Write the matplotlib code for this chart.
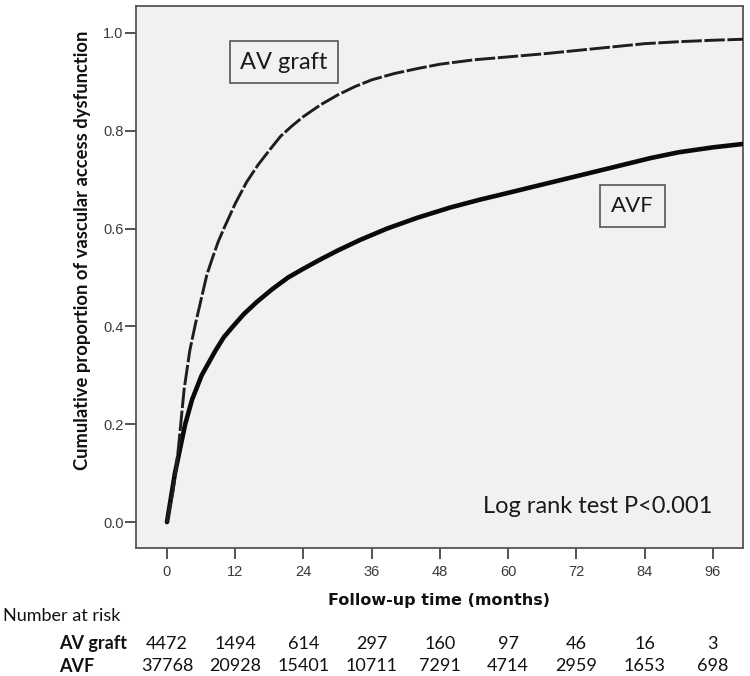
import matplotlib
matplotlib.use("Agg")
import matplotlib.pyplot as plt
import matplotlib.transforms as mtransforms

# ---- data ----
graft_t = [0, 0.5, 1, 1.5, 2, 2.5, 3, 4, 5, 6, 7, 8, 9, 10, 12, 14, 16, 18, 20, 22, 24, 27, 30, 33,
           36, 40, 44, 48, 54, 60, 66, 72, 78, 84, 90, 96, 101.3]
graft_y = [0, 0.03, 0.06, 0.10, 0.15, 0.21, 0.27, 0.35, 0.405, 0.455, 0.505, 0.54, 0.573, 0.60,
           0.651, 0.695, 0.73, 0.76, 0.789, 0.81, 0.829, 0.853, 0.873, 0.89, 0.904, 0.917, 0.927,
           0.936, 0.945, 0.951, 0.957, 0.964, 0.971, 0.978, 0.982, 0.985, 0.987]

avf_t = [0, 0.7, 1.4, 2.3, 3.2, 4.4, 6.1, 8.5, 10, 11.6, 13.5, 15.8, 18.5, 21.3, 24, 27, 30, 34,
         38.7, 44, 49.8, 55, 60, 66, 72, 78, 85, 90, 96, 101.3]
avf_y = [0, 0.05, 0.10, 0.15, 0.20, 0.25, 0.30, 0.35, 0.378, 0.40, 0.425, 0.45, 0.476, 0.50,
         0.518, 0.537, 0.555, 0.577, 0.60, 0.622, 0.643, 0.659, 0.673, 0.69, 0.707, 0.724,
         0.744, 0.756, 0.766, 0.773]

x_ticks = [0, 12, 24, 36, 48, 60, 72, 84, 96]
y_ticks = [0.0, 0.2, 0.4, 0.6, 0.8, 1.0]
y_tick_labels = ["0.0", "0.2", "0.4", "0.6", "0.8", "1.0"]

risk_groups = ["AV graft", "AVF"]
risk_graft = [4472, 1494, 614, 297, 160, 97, 46, 16, 3]
risk_avf = [37768, 20928, 15401, 10711, 7291, 4714, 2959, 1653, 698]

W, H = 750, 676
fig = plt.figure(figsize=(W / 100, H / 100), dpi=100)
fig.patch.set_facecolor("white")

ax = fig.add_axes([136 / W, 1 - 548 / H, (743 - 136) / W, (548 - 6) / H])
ax.set_facecolor("#f1f1f1")
ax.set_xlim(-5.45, 101.3)
ax.set_ylim(-0.053, 1.055)

ax.plot(avf_t, avf_y, color="#0a0a0a", lw=3.3, solid_capstyle="round", zorder=3)
ax.plot(graft_t, graft_y, color="#1e1e1e", lw=2.1, linestyle=(0, (7, 0.9)), zorder=3)

for sp in ax.spines.values():
    sp.set_color("#555555")
    sp.set_linewidth(1.3)

ax.set_xticks(x_ticks)
ax.set_xticklabels([str(v) for v in x_ticks])
ax.set_yticks(y_ticks)
ax.set_yticklabels(y_tick_labels)
ax.tick_params(axis="both", direction="out", length=8, width=1.3, color="#444444",
               labelsize=10.5, labelcolor="#3a3a3a")
for lbl in ax.get_xticklabels() + ax.get_yticklabels():
    lbl.set_family("Liberation Sans")
ax.tick_params(axis="x", pad=4)
ax.tick_params(axis="y", pad=1)

ax.text(20.6, 0.94, "AV graft", family="Lato", fontsize=17, color="#1a1a1a",
        ha="center", va="center", bbox=dict(boxstyle="square,pad=0.45", facecolor="none",
                                             edgecolor="#555555", lw=1.2))
ax.text(81.8, 0.646, "AVF", family="Lato", fontsize=16, color="#1a1a1a",
        ha="center", va="center", bbox=dict(boxstyle="square,pad=0.5", facecolor="none",
                                             edgecolor="#555555", lw=1.2))
ax.text(96, 0.031, "Log rank test P<0.001", family="Lato", fontsize=17, color="#1a1a1a",
        ha="right", va="center")

# axis titles
fig.text(83 / W, 1 - 250 / H, "Cumulative proportion of vascular access dysfunction",
         rotation=90, ha="center", va="center", family="Lato", fontweight="bold",
         fontsize=13.2, color="#111111")
fig.text(439.5 / W, 1 - 600 / H, "Follow-up time (months)", ha="center", va="center",
         family="DejaVu Sans", fontweight="bold", fontsize=11.5, color="#111111")

# number at risk table
fig.text(3 / W, 1 - 616 / H, "Number at risk", ha="left", va="center",
         family="Lato", fontsize=13, color="#111111")
trans = mtransforms.blended_transform_factory(ax.transData, fig.transFigure)
rows_y = [1 - 644 / H, 1 - 666 / H]
for name, vals, yy in zip(risk_groups, [risk_graft, risk_avf], rows_y):
    fig.text(59 / W, yy, name, ha="left", va="center", family="Lato",
             fontweight="bold", fontsize=13, color="#111111")
    for t, v in zip(x_ticks, vals):
        ax.text(t, yy, str(v), transform=trans, ha="center", va="center",
                family="Lato", fontsize=13, color="#111111", clip_on=False)

fig.savefig("out.png", dpi=100, facecolor="white")
